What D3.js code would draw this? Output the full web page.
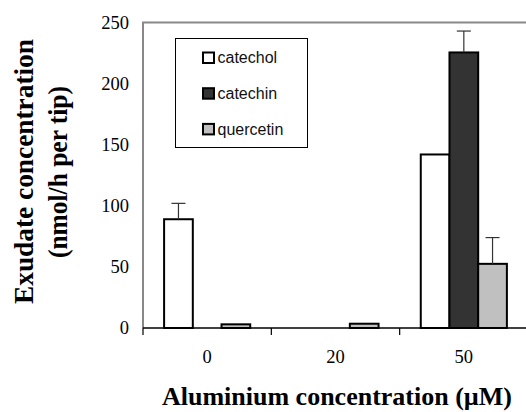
<!DOCTYPE html>
<html>
<head>
<meta charset="utf-8">
<script src="https://cdn.jsdelivr.net/npm/d3@7"></script>
<style>
  body { margin: 0; background: #fff; }
  svg { display: block; }
</style>
</head>
<body>
<div id="chart"></div>
<script>
const categories = ["0", "20", "50"];
const seriesNames = ["catechol", "catechin", "quercetin"];
const catechol = [89, 0, 142];
const catechin = [0, 0, 225.5];
const quercetin = [3, 3.5, 52.5];
const catecholErr = [13, 0, 0];
const catechinErr = [0, 0, 17.5];
const quercetinErr = [0, 0, 21.5];
const yTicks = [0, 50, 100, 150, 200, 250];

const width = 526;
const height = 412;
const margin = { top: 22.5, right: -2, bottom: 84, left: 143 };

const fills = { catechol: "#ffffff", catechin: "#333333", quercetin: "#c0c0c0" };
const values = { catechol, catechin, quercetin };
const errors = { catechol: catecholErr, catechin: catechinErr, quercetin: quercetinErr };

const svg = d3.select("#chart")
  .append("svg")
  .attr("width", width)
  .attr("height", height);

const x = d3.scaleBand()
  .domain(categories)
  .range([margin.left, width - margin.right]);

const xSub = d3.scaleBand()
  .domain(seriesNames)
  .range([0, x.bandwidth()])
  .paddingOuter(0.735);

const y = d3.scaleLinear()
  .domain([0, 250])
  .range([height - margin.bottom, margin.top]);

// plot frame (grey, Excel style)
svg.append("path")
  .attr("d", `M${margin.left},${y(0)} V${y(250)} H${width + 5}`)
  .attr("fill", "none")
  .attr("stroke", "#888")
  .attr("stroke-width", 2);

// bars
const rows = [];
categories.forEach((c, i) => {
  seriesNames.forEach(s => {
    rows.push({ cat: c, key: s, value: values[s][i], err: errors[s][i] });
  });
});

svg.append("g")
  .selectAll("rect")
  .data(rows.filter(d => d.value > 0))
  .join("rect")
  .attr("x", d => x(d.cat) + xSub(d.key))
  .attr("y", d => y(d.value))
  .attr("width", xSub.bandwidth())
  .attr("height", d => y(0) - y(d.value))
  .attr("fill", d => fills[d.key])
  .attr("stroke", "#000")
  .attr("stroke-width", 2);

// error bars
const eb = svg.append("g")
  .selectAll("g")
  .data(rows.filter(d => d.err > 0))
  .join("g")
  .attr("stroke", "#333")
  .attr("stroke-width", 1.2);

eb.append("line")
  .attr("x1", d => x(d.cat) + xSub(d.key) + xSub.bandwidth() / 2)
  .attr("x2", d => x(d.cat) + xSub(d.key) + xSub.bandwidth() / 2)
  .attr("y1", d => y(d.value))
  .attr("y2", d => y(d.value + d.err));

eb.append("line")
  .attr("x1", d => x(d.cat) + xSub(d.key) + xSub.bandwidth() / 2 - 7)
  .attr("x2", d => x(d.cat) + xSub(d.key) + xSub.bandwidth() / 2 + 7)
  .attr("y1", d => y(d.value + d.err))
  .attr("y2", d => y(d.value + d.err));

// x axis
const xAxis = svg.append("g")
  .attr("transform", `translate(0,${y(0)})`);
xAxis.append("line")
  .attr("x1", margin.left)
  .attr("x2", width + 5)
  .attr("stroke", "#000")
  .attr("stroke-width", 1.5);
xAxis.selectAll("line.tick")
  .data(categories)
  .join("line")
  .attr("class", "tick")
  .attr("x1", d => x(d))
  .attr("x2", d => x(d))
  .attr("y1", 0)
  .attr("y2", 7)
  .attr("stroke", "#000")
  .attr("stroke-width", 1.2);
xAxis.selectAll("text")
  .data(categories)
  .join("text")
  .attr("x", d => x(d) + x.bandwidth() / 2)
  .attr("y", 35)
  .attr("text-anchor", "middle")
  .style("font-family", "'Liberation Serif', serif")
  .style("font-size", "18.5px")
  .text(d => d);

// y tick labels
svg.append("g")
  .selectAll("text")
  .data(yTicks)
  .join("text")
  .attr("x", 129)
  .attr("y", d => y(d) + 6)
  .attr("text-anchor", "end")
  .style("font-family", "'Liberation Serif', serif")
  .style("font-size", "18.5px")
  .text(d => d);

// axis titles
svg.append("text")
  .attr("x", 162)
  .attr("y", 405)
  .attr("textLength", 350)
  .attr("lengthAdjust", "spacingAndGlyphs")
  .style("font-family", "'Liberation Serif', serif")
  .style("font-weight", "bold")
  .style("font-size", "25px")
  .text("Aluminium concentration (µM)");

const yTitle = svg.append("g")
  .attr("transform", "translate(0,172) rotate(-90)")
  .style("font-family", "'Liberation Serif', serif")
  .style("font-weight", "bold")
  .style("font-size", "28px");
yTitle.append("text")
  .attr("x", -132).attr("y", 33)
  .attr("textLength", 265)
  .attr("lengthAdjust", "spacingAndGlyphs")
  .text("Exudate concentration");
yTitle.append("text")
  .attr("x", -86).attr("y", 67)
  .attr("textLength", 172)
  .attr("lengthAdjust", "spacingAndGlyphs")
  .text("(nmol/h per tip)");

// legend
const legend = svg.append("g");
legend.append("rect")
  .attr("x", 175.5)
  .attr("y", 38.5)
  .attr("width", 132)
  .attr("height", 109)
  .attr("fill", "#fff")
  .attr("stroke", "#000")
  .attr("stroke-width", 1);

seriesNames.forEach((s, i) => {
  const g = legend.append("g")
    .attr("transform", `translate(203,${57.5 + i * 35.7})`);
  g.append("rect")
    .attr("x", 0)
    .attr("y", -5)
    .attr("width", 11)
    .attr("height", 10.5)
    .attr("fill", fills[s])
    .attr("stroke", "#000")
    .attr("stroke-width", 2);
  g.append("text")
    .attr("x", 14.5)
    .attr("y", 5.8)
    .style("font-family", "'Liberation Sans', Arial, sans-serif")
    .style("font-size", "16px")
    .attr("fill", "#111")
    .text(s);
});
</script>
</body>
</html>
